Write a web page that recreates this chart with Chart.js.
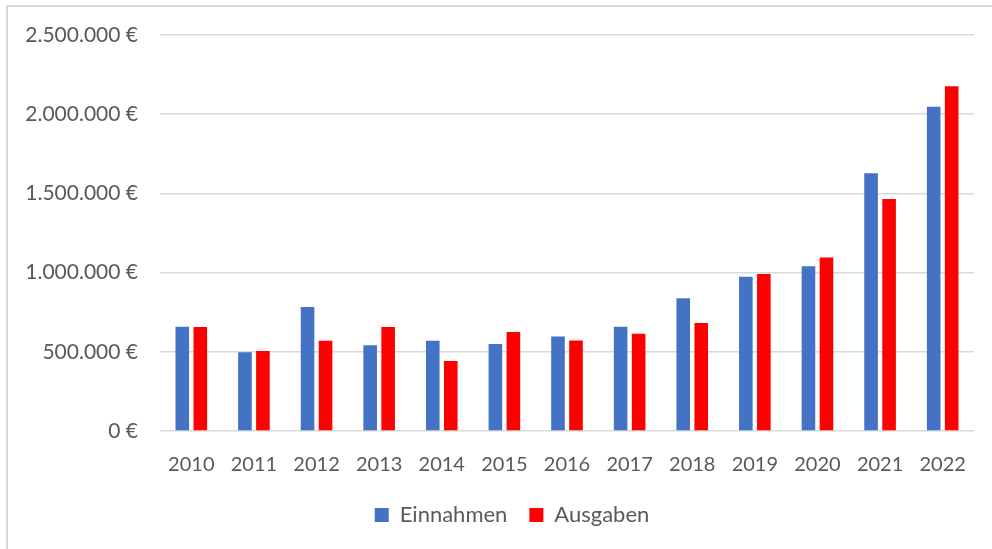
<!DOCTYPE html>
<html>
<head>
<meta charset="utf-8">
<script src="https://cdn.jsdelivr.net/npm/chart.js@4"></script>
<style>
    html, body { margin: 0; padding: 0; background: #fff; }
    #wrap { position: relative; width: 992px; height: 549px; }
    #frame { position: absolute; left: 6px; top: 5px; right: 0; bottom: 0;
             border-left: 2px solid #d9d9d9; border-top: 2px solid #d9d9d9; }
    canvas { position: absolute; left: 0; top: 0; }
</style>
</head>
<body>
<div id="wrap">
    <div id="frame"></div>
    <canvas id="chart" width="992" height="549"></canvas>
</div>
<script>
// Werte (Euro)
const years = ['2010', '2011', '2012', '2013', '2014', '2015', '2016', '2017', '2018', '2019', '2020', '2021', '2022'];
const einnahmen = [658000, 497000, 783000, 541000, 570000, 549000, 597000, 658000, 838000, 974000, 1040000, 1627000, 2047000];
const ausgaben = [656000, 505000, 570000, 656000, 442000, 625000, 572000, 614000, 682000, 991000, 1096000, 1465000, 2176000];

const textColor = '#595959';
const gridColor = '#d9d9d9';

function euro(v) {
    return String(v).replace(/\B(?=(\d{3})+(?!\d))/g, '.') + ' €';
}

// Legende etwas nach rechts schieben (wie im Original)
const legendShift = {
    id: 'legendShift',
    afterLayout(chart) {
        chart.legend.left += 25;
        chart.legend.right += 25;
    },
};

const chart = new Chart(document.getElementById('chart').getContext('2d'), {
    type: 'bar',
    data: {
        labels: years,
        datasets: [
            {
                label: 'Einnahmen',
                data: einnahmen,
                backgroundColor: '#4472C4',
                categoryPercentage: 0.575,
                barPercentage: 0.756,
            },
            {
                label: 'Ausgaben',
                data: ausgaben,
                backgroundColor: '#FF0000',
                categoryPercentage: 0.575,
                barPercentage: 0.756,
            },
        ],
    },
    plugins: [legendShift],
    options: {
        responsive: false,
        animation: false,
        layout: {
            padding: { top: 35, right: 18, bottom: 13, left: 0 },
        },
        plugins: {
            tooltip: { enabled: false },
            legend: {
                position: 'bottom',
                labels: {
                    color: textColor,
                    font: { family: 'Lato', size: 22 },
                    boxWidth: 14,
                    boxHeight: 14,
                    padding: 22,
                },
            },
        },
        scales: {
            x: {
                grid: { display: false, drawTicks: false },
                border: { display: false },
                ticks: {
                    color: textColor,
                    font: { family: 'Lato', size: 20 },
                    padding: 22,
                },
                afterFit: function(scale) {
                    scale.height = 51;
                },
            },
            y: {
                min: 0,
                max: 2500000,
                grid: { color: gridColor, lineWidth: 1.5, drawTicks: false },
                border: { display: false },
                ticks: {
                    stepSize: 500000,
                    color: textColor,
                    font: { family: 'Lato', size: 21 },
                    padding: 22,
                    callback: function(value) {
                        return euro(value);
                    },
                },
                afterFit: function(scale) {
                    scale.width = 160;
                },
            },
        },
    },
});
</script>
</body>
</html>
